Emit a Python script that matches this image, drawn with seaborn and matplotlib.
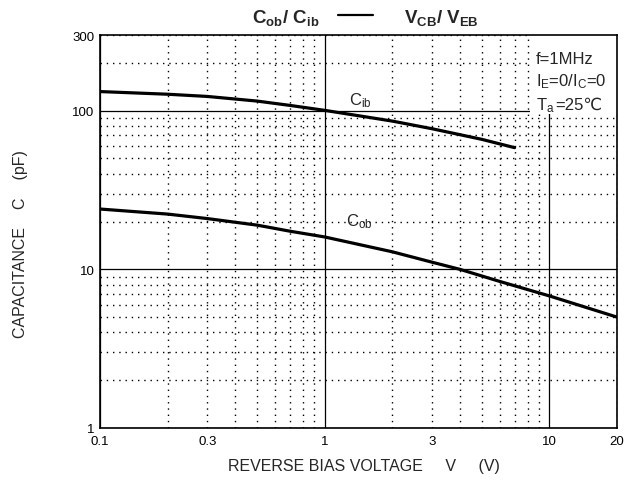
import numpy as np
import pandas as pd
import matplotlib
matplotlib.use("Agg")
import matplotlib.pyplot as plt
from matplotlib.lines import Line2D
from matplotlib.ticker import FixedLocator, FuncFormatter
import seaborn as sns

# values
cib_v = [0.1, 0.2, 0.3, 0.5, 0.7, 1.0, 2.0, 3.0, 5.0, 7.0]
cib_c = [132, 127, 123, 115, 108, 100.5, 86, 77, 66, 58.5]
cob_v = [0.1, 0.2, 0.3, 0.5, 0.7, 1.0, 2.0, 3.0, 4.0, 6.0, 10.0, 20.0]
cob_c = [24, 22.3, 20.9, 19.0, 17.4, 16.0, 12.9, 11.1, 10.0, 8.4, 6.8, 5.0]
x_labels = [0.1, 0.3, 1, 3, 10, 20]
y_labels = [1, 10, 100, 300]

sns.set_style("white")
plt.rcParams['font.family'] = ['Liberation Sans', 'DejaVu Sans']
plt.rcParams['mathtext.fontset'] = 'custom'
plt.rcParams['mathtext.rm'] = 'Liberation Sans'
plt.rcParams['mathtext.it'] = 'Liberation Sans'
plt.rcParams['mathtext.bf'] = 'Liberation Sans:bold'

df = pd.concat([
    pd.DataFrame({'V': cib_v, 'C': cib_c, 'curve': 'Cib'}),
    pd.DataFrame({'V': cob_v, 'C': cob_c, 'curve': 'Cob'}),
])

W, H = 638, 481
fig = plt.figure(figsize=(W / 100, H / 100), dpi=100)
ax = fig.add_axes([100 / W, 52 / H, 517 / W, 393 / H])

sns.lineplot(data=df, x='V', y='C', units='curve', estimator=None,
             color='black', lw=2.3, ax=ax, legend=False)

ax.set_xscale('log')
ax.set_yscale('log')
ax.set_xlim(0.1, 20)
ax.set_ylim(1, 300)

# major = decades (solid grid), minor = 2..9 (dotted grid)
ax.xaxis.set_major_locator(FixedLocator([0.1, 1, 10]))
ax.yaxis.set_major_locator(FixedLocator([1, 10, 100]))
xminor = [m * d for d in [0.1, 1, 10] for m in range(2, 10) if m * d <= 20]
yminor = [m * d for d in [1, 10, 100] for m in range(2, 10) if m * d <= 300]
ax.xaxis.set_minor_locator(FixedLocator(xminor))
ax.yaxis.set_minor_locator(FixedLocator(yminor))


def fmt(v, pos, keep):
    for k in keep:
        if abs(v - k) < 1e-9 * max(1, k):
            return f"{k:g}"
    return ""


ax.xaxis.set_major_formatter(FuncFormatter(lambda v, p: fmt(v, p, x_labels)))
ax.xaxis.set_minor_formatter(FuncFormatter(lambda v, p: fmt(v, p, x_labels)))
ax.yaxis.set_major_formatter(FuncFormatter(lambda v, p: fmt(v, p, y_labels)))
ax.yaxis.set_minor_formatter(FuncFormatter(lambda v, p: fmt(v, p, y_labels)))
ax.tick_params(which='both', length=0, labelsize=9.5, colors='black')
ax.tick_params(axis='x', which='both', pad=5)
ax.tick_params(axis='y', which='both', pad=4)

ax.grid(which='major', color='black', ls='-', lw=0.9)
ax.grid(which='minor', color='black', ls=(0, (1, 3.5)), lw=1.0)
for s in ax.spines.values():
    s.set_color('black')
    s.set_linewidth(1.2)

ax.set_xlabel("")
ax.set_ylabel("")
fig.text(364 / W, 1 - 467 / H, "REVERSE BIAS VOLTAGE     V     (V)",
         fontsize=11.5, ha='center', va='center')
fig.text(21 / W, 1 - 244 / H, "CAPACITANCE    C    (pF)",
         fontsize=11.5, ha='center', va='center', rotation=90)

ax.text(1.28, 109, r"$\mathrm{C_{ib}}$", fontsize=12, va='baseline', ha='left')
ax.text(1.25, 18.9, r"$\mathrm{C_{ob}}$", fontsize=12, va='baseline', ha='left')

# condition box
ax.add_patch(plt.Rectangle(((530 - 100) / 517, (429 - 115) / 393), 87 / 517, 80 / 393,
                           transform=ax.transAxes, facecolor='white',
                           edgecolor='none', zorder=2.4, clip_on=False))
bx = (536 - 100) / 517
ax.text(bx, (429 - 60) / 393, "f=1MHz", transform=ax.transAxes,
        fontsize=12, va='center', zorder=4)
ax.text(bx, (429 - 82) / 393, r"$\mathrm{I_E}$=0/$\mathrm{I_C}$=0",
        transform=ax.transAxes, fontsize=12, va='center', zorder=4)
ty = (429 - 110) / 393
t = ax.text(bx, ty, r"$\mathrm{T_a}$", transform=ax.transAxes,
            fontsize=12, va='baseline', zorder=4)
ax.annotate("=25℃", xy=(1, ty), xycoords=(t, 'axes fraction'),
            fontsize=12, va='baseline', ha='left', zorder=4)

# title: two bold parts joined by a plain dash line
fig.text(319 / W, 1 - 18 / H, r"$\mathbf{C_{ob}/\ C_{ib}}$",
         ha='right', va='center', fontsize=13.5)
fig.add_artist(Line2D([338 / W, 373 / W], [1 - 16 / H, 1 - 16 / H],
                      transform=fig.transFigure, color='black', lw=1.6))
fig.text(404 / W, 1 - 18 / H, r"$\mathbf{V_{CB}/\ V_{EB}}$",
         ha='left', va='center', fontsize=13.5)

fig.savefig("out.png", dpi=100)
